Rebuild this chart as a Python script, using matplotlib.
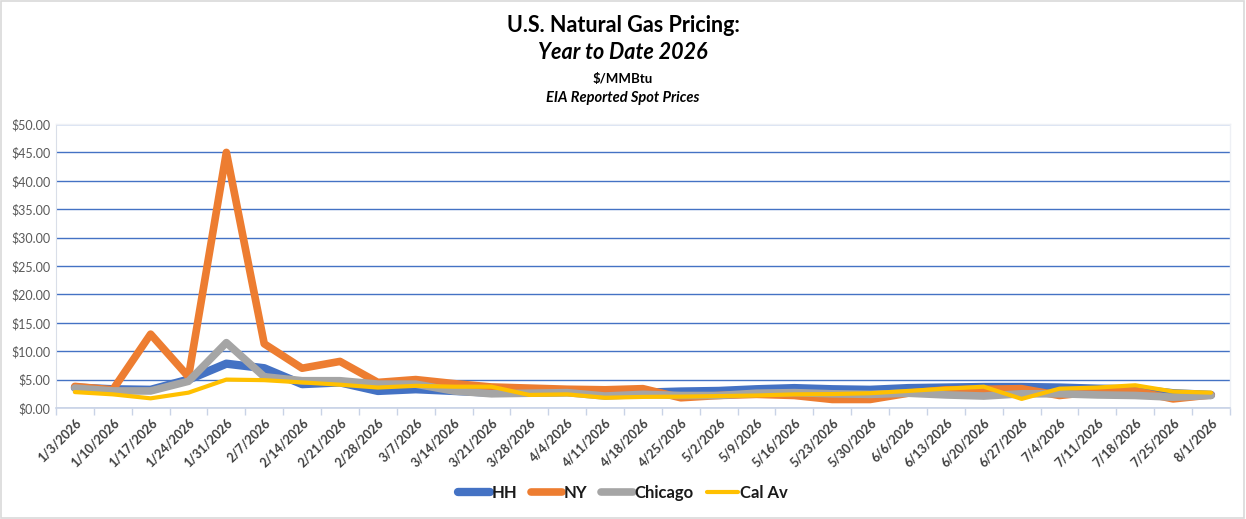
import matplotlib
matplotlib.use("Agg")
import matplotlib.pyplot as plt
from matplotlib.ticker import FuncFormatter, MultipleLocator, FixedLocator
import numpy as np

dates = ["1/3/2026", "1/10/2026", "1/17/2026", "1/24/2026", "1/31/2026", "2/7/2026",
         "2/14/2026", "2/21/2026", "2/28/2026", "3/7/2026", "3/14/2026", "3/21/2026",
         "3/28/2026", "4/4/2026", "4/11/2026", "4/18/2026", "4/25/2026", "5/2/2026",
         "5/9/2026", "5/16/2026", "5/23/2026", "5/30/2026", "6/6/2026", "6/13/2026",
         "6/20/2026", "6/27/2026", "7/4/2026", "7/11/2026", "7/18/2026", "7/25/2026",
         "8/1/2026"]

hh = [3.6, 3.3, 3.2, 5.0, 7.8, 7.0, 4.2, 4.5, 3.0, 3.3, 3.0, 2.7, 2.7, 2.8, 2.6, 2.7,
      2.9, 3.0, 3.3, 3.5, 3.3, 3.2, 3.5, 3.6, 3.7, 3.7, 3.6, 3.4, 3.3, 2.6, 2.3]
ny = [3.8, 3.2, 13.0, 5.5, 45.0, 11.3, 7.0, 8.2, 4.5, 5.0, 4.3, 3.7, 3.5, 3.3, 3.2, 3.4,
      1.8, 2.2, 2.4, 2.2, 1.5, 1.5, 2.6, 3.2, 3.3, 3.4, 2.2, 2.9, 3.0, 1.6, 2.3]
chicago = [3.5, 3.0, 3.0, 4.7, 11.5, 5.5, 4.8, 4.8, 4.2, 4.2, 3.0, 2.5, 2.6, 2.7, 2.1, 2.4,
           2.2, 2.2, 2.6, 2.7, 2.5, 2.4, 2.6, 2.3, 2.1, 2.5, 2.5, 2.3, 2.2, 1.9, 2.2]
calav = [2.8, 2.4, 1.7, 2.7, 5.0, 4.9, 4.5, 4.1, 3.6, 3.9, 3.75, 3.75, 2.3, 2.4, 1.8, 1.95,
         2.0, 2.1, 2.2, 2.4, 2.45, 2.6, 3.0, 3.4, 3.75, 1.6, 3.4, 3.6, 4.0, 2.9, 2.7]

series_names = ["HH", "NY", "Chicago", "Cal Av"]
colors = ["#4472C4", "#ED7D31", "#A5A5A5", "#FFC000"]
widths = [6.0, 5.5, 5.5, 3.0]

FONT = ["Lato", "DejaVu Sans"]
plt.rcParams["font.family"] = FONT

fig = plt.figure(figsize=(12.46, 5.19), dpi=100)
# outer border
fig.patches.append(plt.Rectangle((0.001, 0.002), 0.997, 0.996, transform=fig.transFigure,
                                 fill=False, edgecolor="#D9D9D9", linewidth=1.2))

ax = fig.add_axes([0.0449, 0.2139, 0.9422, 0.5472])
x = np.arange(len(dates))
for vals, name, c, w in zip([hh, ny, chicago, calav], series_names, colors, widths):
    ax.plot(x, vals, color=c, linewidth=w, label=name, solid_capstyle="round",
            solid_joinstyle="round")

ax.set_xlim(-0.5, len(dates) - 0.5)
ax.set_ylim(0, 50)
ax.yaxis.set_major_locator(MultipleLocator(5))
ax.yaxis.set_major_formatter(FuncFormatter(lambda v, p: f"${v:.2f}"))
ax.grid(axis="y", color="#4472C4", linewidth=1.0)
ax.set_axisbelow(True)

ax.set_xticks(x)
ax.set_xticklabels(dates, rotation=45, ha="right", rotation_mode="anchor",
                   fontsize=9, fontweight="bold", color="#404040")
ax.tick_params(axis="x", length=0, pad=6)
ax.xaxis.set_minor_locator(FixedLocator(np.arange(-0.5, len(dates), 1.0)))
ax.tick_params(axis="x", which="minor", length=5, color="#C9D3E6", width=1)
ax.tick_params(axis="y", length=0, labelsize=9, labelcolor="#595959", pad=4)

for s in ["top", "right"]:
    ax.spines[s].set_color("#EEF0F5")
    ax.spines[s].set_linewidth(1)
ax.spines["left"].set_color("#D9DEE8")
ax.spines["bottom"].set_color("#C9D3E6")
ax.spines["bottom"].set_linewidth(1.2)

fig.text(0.5, 0.95, "U.S. Natural Gas Pricing:", ha="center", va="center",
         fontsize=15.5, fontweight="bold", color="#000000")
fig.text(0.5, 0.898, "Year to Date 2026", ha="center", va="center",
         fontsize=15.5, fontweight="bold", fontstyle="italic", color="#000000")
fig.text(0.5, 0.847, "$/MMBtu", ha="center", va="center",
         fontsize=9.5, fontweight="bold", color="#000000")
fig.text(0.5, 0.812, "EIA Reported Spot Prices", ha="center", va="center",
         fontsize=10.5, fontweight="bold", fontstyle="italic", color="#000000")

leg = fig.legend(loc="center", bbox_to_anchor=(0.5, 0.05), ncol=4, frameon=False,
                 prop={"weight": "bold", "size": 12}, handlelength=1.9,
                 columnspacing=0.8, handletextpad=0.1)
for t in leg.get_texts():
    t.set_color("#1a1a1a")

fig.savefig("out.png", dpi=100)
